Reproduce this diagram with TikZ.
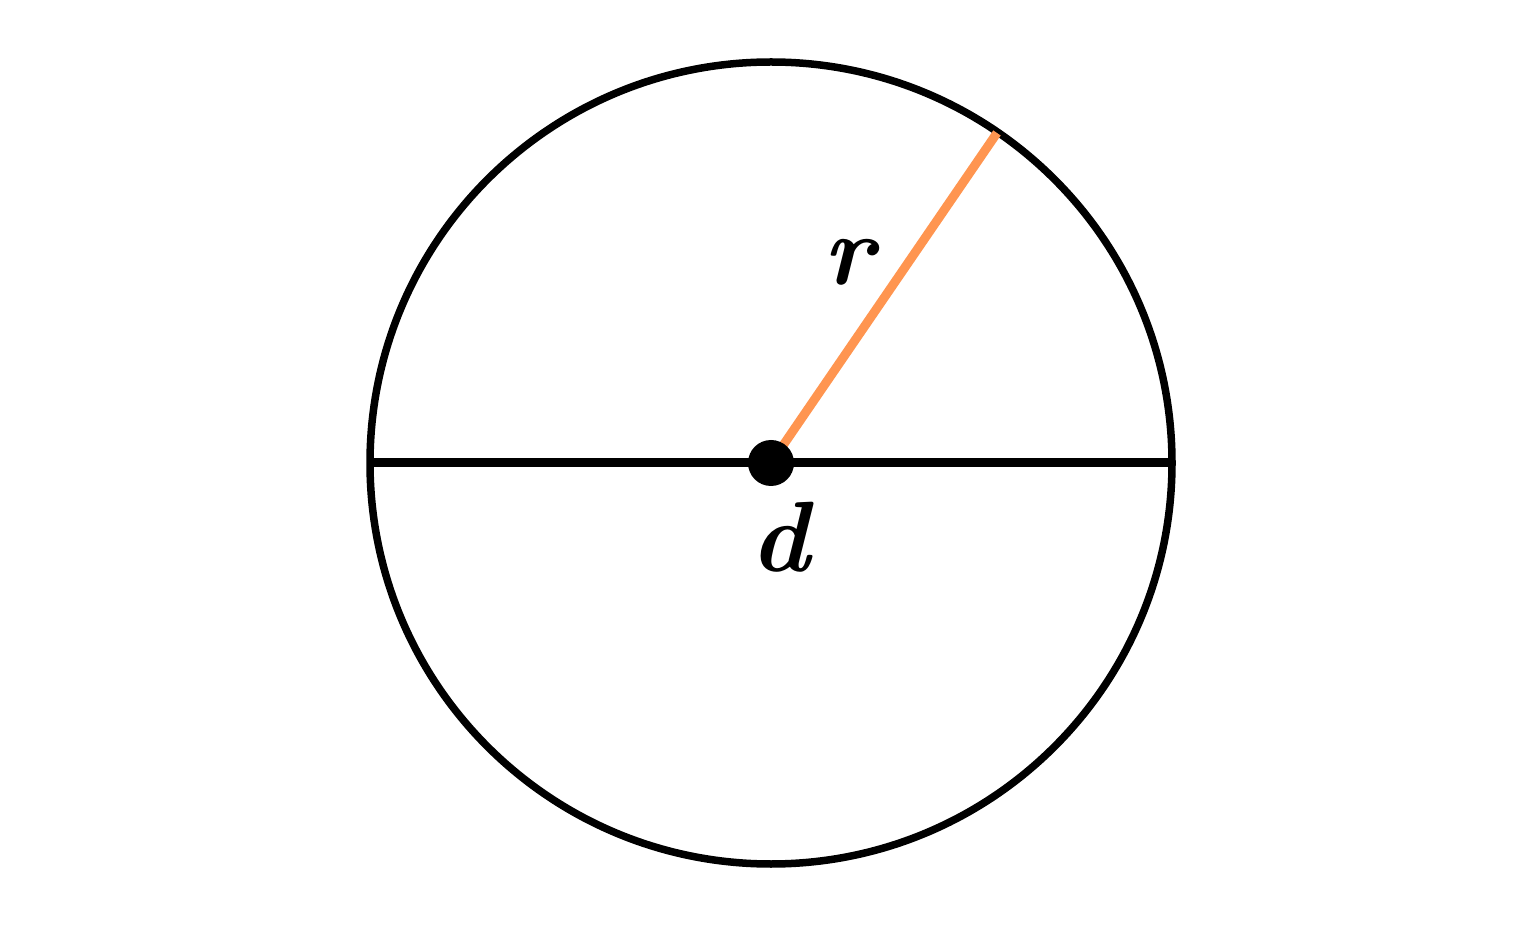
\documentclass[tikz,border=0pt]{standalone}
\usetikzlibrary{calc}
\begin{document}
\begin{tikzpicture}[x=1pt,y=1pt,
  rim/.style={draw=black,line width=7.5pt},
  diam/.style={draw=black,line width=9pt},
  rad/.style={draw=radorange,line width=9pt},
  lbl/.style={font=\fontsize{100}{100}\selectfont\bfseries\itshape,inner sep=0pt}]
\definecolor{radorange}{HTML}{FF9550}
\useasboundingbox (0,0) rectangle (1536,927);
\coordinate (c) at (771,464);
\coordinate (L) at (370,464);
\coordinate (R) at (1172,464);
\coordinate (P) at ($(c)+(55.6:400)$);
\draw[rim] (c) circle (401);
\draw[rad] (c) -- (P);
\draw[diam] (L) -- (R);
\fill (c) circle (23);
\node[lbl] (r) at (849,665) {r};
\node[lbl] (d) at (780,390) {d};
\end{tikzpicture}
\end{document}
